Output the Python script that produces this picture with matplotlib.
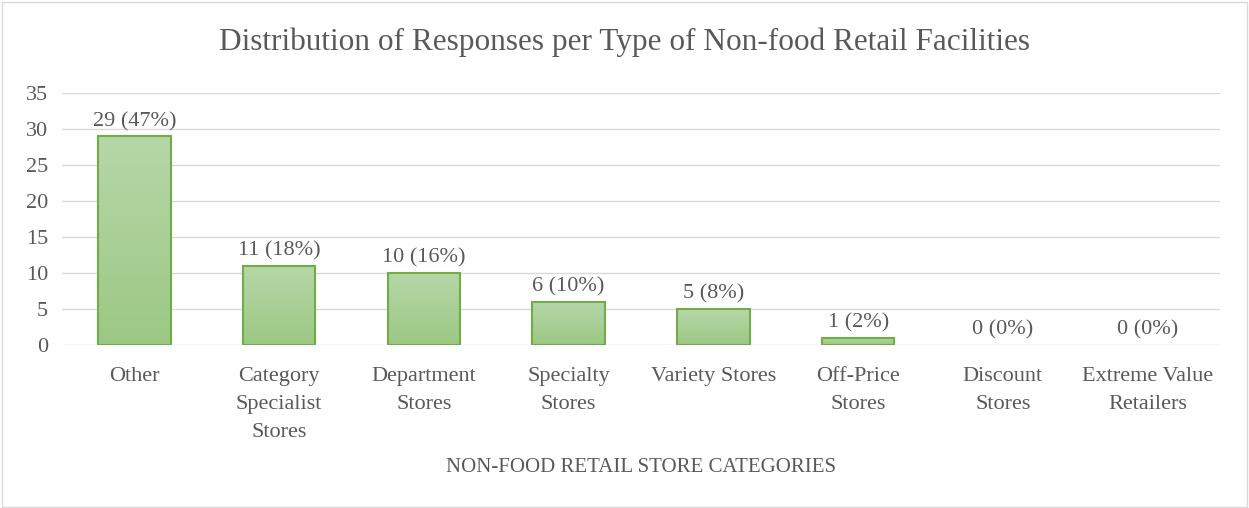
import matplotlib.pyplot as plt
import numpy as np
from matplotlib.colors import LinearSegmentedColormap
from matplotlib.patches import Rectangle

plt.rcParams["font.family"] = ["Liberation Serif", "DejaVu Serif"]

categories = ["Other", "Category\nSpecialist\nStores", "Department\nStores", "Specialty\nStores",
              "Variety Stores", "Off-Price\nStores", "Discount\nStores", "Extreme Value\nRetailers"]
counts = [29, 11, 10, 6, 5, 1, 0, 0]
percents = [47, 18, 16, 10, 8, 2, 0, 0]
yticks = [0, 5, 10, 15, 20, 25, 30, 35]

TEXT = "#595959"
GRID = "#d9d9d9"
EDGE = "#70ad47"

fig = plt.figure(figsize=(12.49, 5.08), dpi=100)
ax = fig.add_axes([0.0496, 0.321, 0.9272, 0.496])

x = np.arange(len(categories))
width = 0.5
bars = ax.bar(x, counts, width=width, facecolor="none", edgecolor=EDGE, linewidth=1.5, zorder=3)

# vertical gradient fill, lighter at top; empty bars drawn with nothing
cmap = LinearSegmentedColormap.from_list("g", ["#9cc884", "#b6d7a8"])
grad = np.linspace(0, 1, 256).reshape(-1, 1)
for b in bars:
    if b.get_height() <= 0:
        b.set_edgecolor("none")
        continue
    im = ax.imshow(grad, cmap=cmap, origin="lower", aspect="auto", zorder=2,
                   extent=[b.get_x(), b.get_x() + b.get_width(), 0, b.get_height()])
    im.set_clip_path(b)

for xi, c, p in zip(x, counts, percents):
    ax.text(xi, c + 0.7, f"{c} ({p}%)", ha="center", va="bottom", fontsize=16, color=TEXT)

ax.set_xlim(-0.5, len(categories) - 0.5)
ax.set_ylim(0, 35)
ax.set_yticks(yticks)
ax.set_xticks(x)
ax.set_xticklabels(categories, fontsize=16, color=TEXT, linespacing=1.62)
ax.tick_params(axis="y", labelsize=16, labelcolor=TEXT, length=0, pad=10)
ax.tick_params(axis="x", length=0, pad=16)
ax.grid(axis="y", color=GRID, linewidth=1, zorder=0)
for s in ax.spines.values():
    s.set_visible(False)

ax.set_xlabel("NON-FOOD RETAIL STORE CATEGORIES", fontsize=15, color=TEXT, labelpad=12)
fig.suptitle("Distribution of Responses per Type of Non-food Retail Facilities",
             fontsize=22.5, color=TEXT, y=0.945)

fig.patches.append(Rectangle((0.002, 0.002), 0.996, 0.994, transform=fig.transFigure,
                             fill=False, edgecolor=GRID, linewidth=1))

fig.savefig("out.png", dpi=100)
